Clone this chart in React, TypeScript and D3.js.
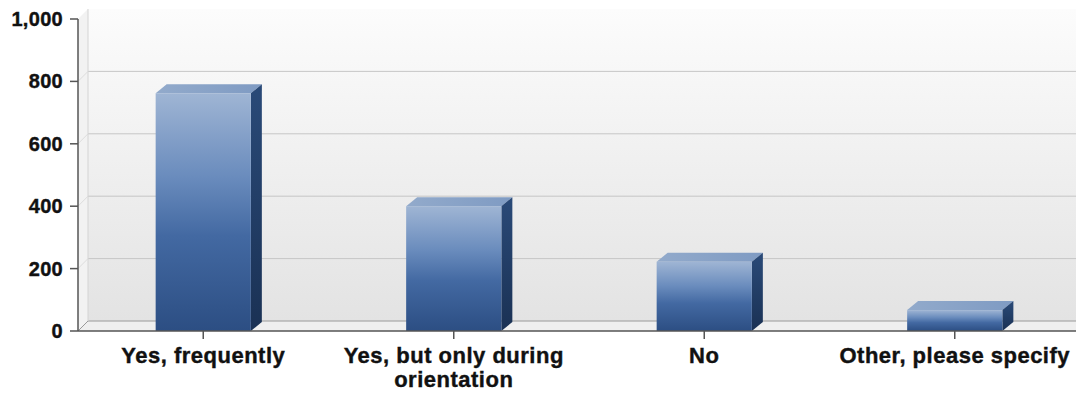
import React from "react";
import * as d3 from "d3";

const categories = ["Yes, frequently", "Yes, but only during|orientation", "No", "Other, please specify"];
const values = [762, 400, 222, 67];
const yTicks = [0, 200, 400, 600, 800, 1000];

const W = 1076;
const H = 393;
const left = 78;
const right = 1080;
const yTop = 19;
const yBottom = 331;
const DX = 10;
const DY = -10;

export default function App() {
  const x = d3.scaleBand<string>().domain(categories).range([left, right]).paddingInner(0.62).paddingOuter(0.31);
  const y = d3.scaleLinear().domain([0, 1000]).range([yBottom, yTop]);
  const fmt = d3.format(",");
  const bw = x.bandwidth();
  const bdx = 11;
  const bdy = -9;
  const font = "'Liberation Sans', Arial, sans-serif";

  return (
    <svg width={W} height={H} style={{ position: "absolute", left: 0, top: 0, background: "#fff" }}>
      <defs>
        <linearGradient id="wall" x1="0" y1="0" x2="0" y2="1">
          <stop offset="0" stopColor="#fcfcfc" />
          <stop offset="1" stopColor="#e3e3e3" />
        </linearGradient>
        <linearGradient id="front" x1="0" y1="0" x2="0" y2="1">
          <stop offset="0" stopColor="#9fb5d4" />
          <stop offset="0.35" stopColor="#6a8cbd" />
          <stop offset="0.6" stopColor="#4369a2" />
          <stop offset="1" stopColor="#2c4e83" />
        </linearGradient>
        <linearGradient id="side" x1="0" y1="0" x2="0" y2="1">
          <stop offset="0" stopColor="#2a4a78" />
          <stop offset="1" stopColor="#1a3154" />
        </linearGradient>
        <linearGradient id="top" x1="0" y1="0" x2="1" y2="0">
          <stop offset="0" stopColor="#92aacb" />
          <stop offset="1" stopColor="#7f9bc3" />
        </linearGradient>
      </defs>
      {/* back wall */}
      <rect x={left + DX} y={y(1000) + DY} width={W - left - DX} height={y(0) - y(1000)} fill="url(#wall)" />
      {/* left wall */}
      <polygon
        points={`${left},${y(1000)} ${left + DX},${y(1000) + DY} ${left + DX},${y(0) + DY} ${left},${y(0)}`}
        fill="#f2f2f2"
      />
      {/* floor */}
      <polygon
        points={`${left},${y(0)} ${left + DX},${y(0) + DY} ${W},${y(0) + DY} ${W},${y(0)}`}
        fill="#efefef"
      />
      {/* grid lines */}
      {yTicks.filter((t) => t > 0 && t < 1000).map((t) => (
        <g key={t}>
          <line x1={left + DX} x2={W} y1={y(t) + DY} y2={y(t) + DY} stroke="#c6c6c6" strokeWidth={1} />
          <line x1={left} x2={left + DX} y1={y(t)} y2={y(t) + DY} stroke="#dddddd" strokeWidth={1} />
        </g>
      ))}
      <line x1={left + DX} x2={W} y1={y(0) + DY} y2={y(0) + DY} stroke="#9a9a9a" strokeWidth={1} />
      <line x1={left + DX} x2={left + DX} y1={y(1000) + DY} y2={y(0) + DY} stroke="#d4d4d4" strokeWidth={1} />
      <line x1={left} x2={left + DX} y1={y(0)} y2={y(0) + DY} stroke="#9a9a9a" strokeWidth={1} />
      {/* bars */}
      {categories.map((c, i) => {
        const x0 = x(c)!;
        const y0 = y(values[i]);
        const yb = y(0);
        return (
          <g key={c}>
            <polygon
              points={`${x0},${y0} ${x0 + bdx},${y0 + bdy} ${x0 + bw + bdx},${y0 + bdy} ${x0 + bw},${y0}`}
              fill="url(#top)"
            />
            <polygon
              points={`${x0 + bw},${y0} ${x0 + bw + bdx},${y0 + bdy} ${x0 + bw + bdx},${yb + bdy} ${x0 + bw},${yb}`}
              fill="url(#side)"
            />
            <rect x={x0} y={y0} width={bw} height={yb - y0} fill="url(#front)" />
          </g>
        );
      })}
      {/* axes */}
      <line x1={left} x2={left} y1={y(1000)} y2={y(0)} stroke="#555" strokeWidth={1.5} />
      <line x1={left} x2={W} y1={y(0)} y2={y(0)} stroke="#555" strokeWidth={1.5} />
      {yTicks.map((t) => (
        <g key={t}>
          <line x1={left - 8} x2={left} y1={y(t)} y2={y(t)} stroke="#555" strokeWidth={1.5} />
          <text
            x={left - 15}
            y={y(t)}
            dy="0.35em"
            textAnchor="end"
            fontFamily={font}
            fontWeight="bold"
            fontSize={20}
            letterSpacing={0.3}
            fill="#111"
            stroke="#111"
            strokeWidth={0.4}
          >
            {fmt(t)}
          </text>
        </g>
      ))}
      {categories.map((c) => {
        const cx = x(c)! + bw / 2;
        const lines = c.split("|");
        return (
          <g key={c}>
            <line x1={cx} x2={cx} y1={y(0)} y2={y(0) + 8} stroke="#555" strokeWidth={1.5} />
            <text
              textAnchor="middle"
              fontFamily={font}
              fontWeight="bold"
              fontSize={22}
              letterSpacing={0.5}
              fill="#111"
              stroke="#111"
              strokeWidth={0.4}
            >
              {lines.map((l, k) => (
                <tspan key={k} x={cx} y={363 + k * 23.5}>
                  {l}
                </tspan>
              ))}
            </text>
          </g>
        );
      })}
    </svg>
  );
}
